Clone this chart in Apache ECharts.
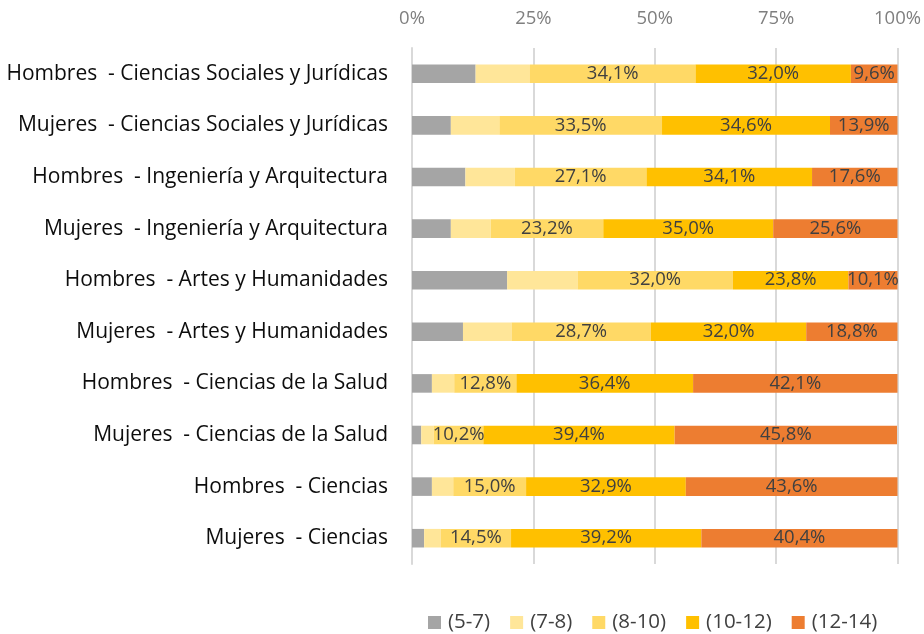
<!DOCTYPE html>
<html lang="es">
<head>
  <meta charset="UTF-8">
  <title>Distribución por tramos</title>
  <style>
    html, body { margin: 0; padding: 0; background: #fff; }
    #chart { width: 924px; height: 634px; }
  </style>
</head>
<body>
  <div id="chart"></div>
  <script src="https://cdn.jsdelivr.net/npm/echarts@6/dist/echarts.min.js"></script>
  <script>
    // categorías, de arriba a abajo
    var categorias = [
      'Hombres  - Ciencias Sociales y Jurídicas',
      'Mujeres  - Ciencias Sociales y Jurídicas',
      'Hombres  - Ingeniería y Arquitectura',
      'Mujeres  - Ingeniería y Arquitectura',
      'Hombres  - Artes y Humanidades',
      'Mujeres  - Artes y Humanidades',
      'Hombres  - Ciencias de la Salud',
      'Mujeres  - Ciencias de la Salud',
      'Hombres  - Ciencias',
      'Mujeres  - Ciencias'
    ];
    var tramos = ['(5-7)', '(7-8)', '(8-10)', '(10-12)', '(12-14)'];

    // porcentajes por tramo (los dos primeros estimados del gráfico)
    var t5_7   = [13.1, 8.0, 11.0, 8.0, 19.6, 10.5, 4.1, 1.9, 4.1, 2.5];
    var t7_8   = [11.2, 10.0, 10.2, 8.2, 14.5, 10.0, 4.6, 2.6, 4.4, 3.4];
    var t8_10  = [34.1, 33.5, 27.1, 23.2, 32.0, 28.7, 12.8, 10.2, 15.0, 14.5];
    var t10_12 = [32.0, 34.6, 34.1, 35.0, 23.8, 32.0, 36.4, 39.4, 32.9, 39.2];
    var t12_14 = [9.6, 13.9, 17.6, 25.6, 10.1, 18.8, 42.1, 45.8, 43.6, 40.4];

    var ticks = [0, 25, 50, 75, 100];

    var colores = ['#A5A5A5', '#FFE699', '#FFD966', '#FFC000', '#ED7D31'];
    var valores = [t5_7, t7_8, t8_10, t10_12, t12_14];
    var conEtiqueta = [false, false, true, true, true];

    var fuente = 'Open Sans, Noto Sans, sans-serif';

    var myChart = echarts.init(document.getElementById('chart'));

    var series = tramos.map(function (nombre, i) {
      return {
        name: nombre,
        type: 'bar',
        stack: 'total',
        barWidth: '36%',
        data: valores[i],
        itemStyle: { color: colores[i] },
        label: {
          show: conEtiqueta[i],
          position: 'inside',
          color: '#404040',
          fontSize: 18.5,
          fontFamily: fuente,
          formatter: function (p) {
            return p.value.toFixed(1).replace('.', ',') + '%';
          }
        },
        emphasis: { disabled: true }
      };
    });

    var option = {
      animation: false,
      grid: { left: 412, right: 26, top: 48, bottom: 70, containLabel: false },
      legend: {
        data: tramos,
        left: 423,
        top: 607,
        itemWidth: 13,
        itemHeight: 13,
        itemGap: 20,
        icon: 'rect',
        textStyle: { color: '#404040', fontSize: 20.5, fontFamily: fuente, padding: [0, 0, 0, 2] }
      },
      xAxis: {
        type: 'value',
        position: 'top',
        min: ticks[0],
        max: ticks[ticks.length - 1],
        interval: 25,
        axisLine: { show: false },
        axisTick: { show: false },
        axisLabel: {
          color: '#7F7F7F',
          fontSize: 18.5,
          fontFamily: fuente,
          margin: 20,
          formatter: '{value}%'
        },
        splitLine: { lineStyle: { color: '#D9D9D9', width: 2 } }
      },
      yAxis: {
        type: 'category',
        inverse: true,
        data: categorias,
        axisLine: { show: true, lineStyle: { color: '#D9D9D9', width: 2 } },
        axisTick: { show: false },
        axisLabel: {
          color: '#0D0D0D',
          fontSize: 21,
          fontFamily: fuente,
          margin: 24
        }
      },
      series: series
    };

    myChart.setOption(option);
  </script>
</body>
</html>
